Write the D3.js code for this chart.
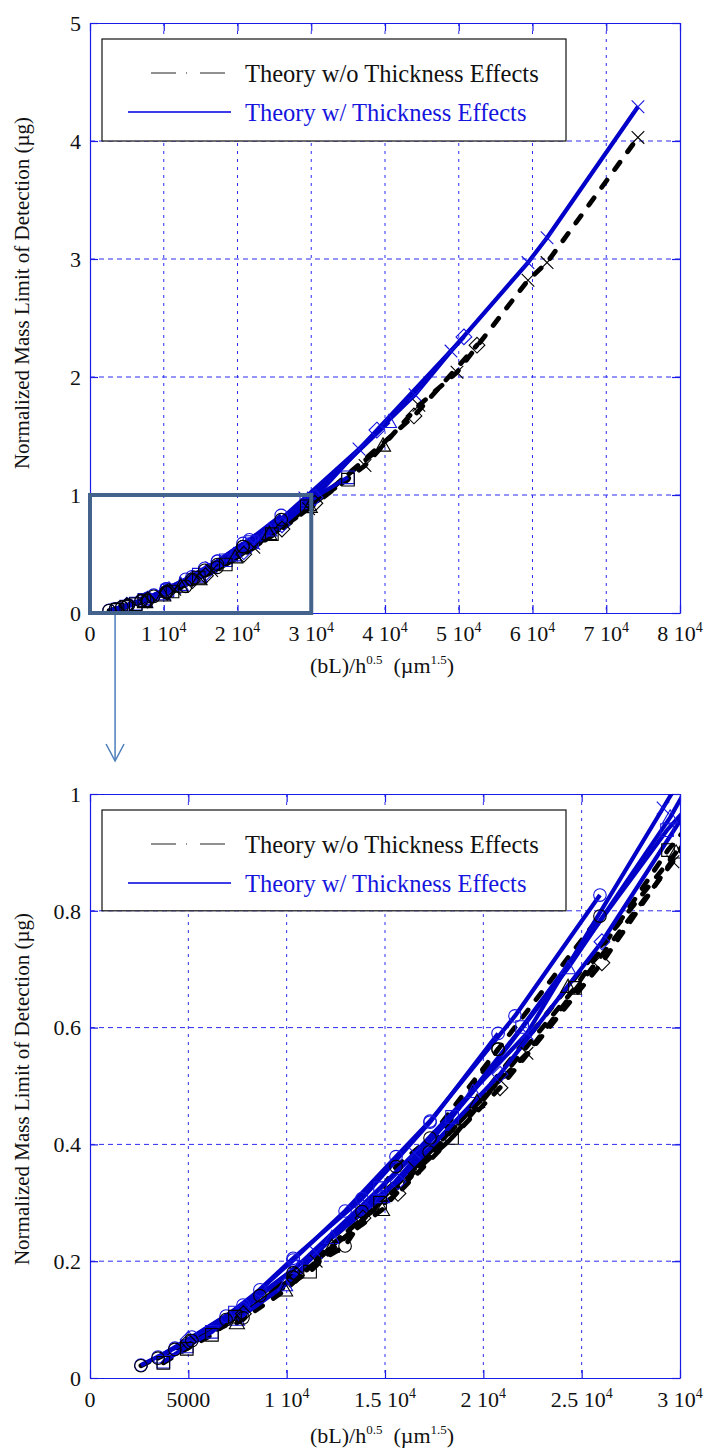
<!DOCTYPE html>
<html>
<head>
<meta charset="utf-8">
<script src="https://cdn.jsdelivr.net/npm/d3@7"></script>
<style>
  body { margin: 0; background: #fff; }
  svg, svg text { font-family: "Liberation Serif", "DejaVu Serif", serif; }
</style>
</head>
<body>
<script>
// ---- data: [ (bL)/h^0.5 , normalized mass LOD ] ----
// w = theory with thickness effects (blue), wo = without (black dashed)
var circleA_w  = [[2590,0.022],[4320,0.051],[6920,0.106],[8640,0.151],[10330,0.202],[12970,0.286],[15560,0.379],[17290,0.440],[21610,0.620],[25930,0.827]];
var circleA_wo = [[2590,0.021],[4320,0.049],[6920,0.100],[8640,0.141],[10330,0.173],[12970,0.226],[15560,0.362],[17290,0.411],[20750,0.563],[25930,0.791]];
var circleB_w  = [[3460,0.036],[5180,0.070],[7780,0.125],[10330,0.205],[13830,0.307],[17290,0.438],[20750,0.590]];
var circleB_wo = [[3460,0.034],[5180,0.064],[7780,0.103],[10330,0.180],[13830,0.285],[17240,0.387],[20750,0.563]];
var square_w   = [[3730,0.028],[4920,0.054],[6200,0.079],[7370,0.112],[10500,0.190],[14750,0.325],[18410,0.447],[21970,0.601],[29340,0.938],[34980,1.150]];
var square_wo  = [[3730,0.026],[4920,0.050],[6200,0.074],[7370,0.105],[11190,0.182],[14750,0.300],[18410,0.411],[24660,0.668],[29390,0.904],[34980,1.130]];
var triangle_w = [[7470,0.100],[9920,0.159],[12300,0.240],[14850,0.310],[19470,0.490],[24310,0.702],[29500,0.960],[40540,1.620]];
var triangle_wo= [[7470,0.094],[9920,0.150],[12300,0.225],[14850,0.288],[19680,0.473],[24310,0.670],[29800,0.900],[39730,1.420]];
var diamond_w  = [[5000,0.066],[7800,0.118],[10500,0.190],[13880,0.292],[15660,0.336],[20850,0.520],[26030,0.747],[30500,0.980],[38900,1.550],[50700,2.340]];
var diamond_wo = [[5000,0.062],[7800,0.110],[10500,0.176],[13880,0.274],[15660,0.316],[20850,0.497],[26030,0.711],[30500,0.930],[43930,1.670],[52475,2.270]];
var cross_w    = [[11500,0.215],[16500,0.385],[22220,0.590],[29140,0.976],[36470,1.390],[44070,1.850],[48950,2.220],[59390,2.970],[61970,3.180],[74300,4.290]];
var cross_wo   = [[11500,0.200],[16500,0.360],[22220,0.556],[29640,0.884],[37290,1.250],[44600,1.760],[49760,2.040],[59390,2.820],[61970,2.970],[74300,4.030]];

var seriesList = [
  {pts: circleA_w,   th: "w",  mk: "circle"},
  {pts: circleB_w,   th: "w",  mk: "circle"},
  {pts: square_w,    th: "w",  mk: "square"},
  {pts: triangle_w,  th: "w",  mk: "triangle"},
  {pts: diamond_w,   th: "w",  mk: "diamond"},
  {pts: cross_w,     th: "w",  mk: "cross"},
  {pts: circleA_wo,  th: "wo", mk: "circle"},
  {pts: circleB_wo,  th: "wo", mk: "circle"},
  {pts: square_wo,   th: "wo", mk: "square"},
  {pts: triangle_wo, th: "wo", mk: "triangle"},
  {pts: diamond_wo,  th: "wo", mk: "diamond"},
  {pts: cross_wo,    th: "wo", mk: "cross"}
];

// ticks
var topXTicks = [0,10000,20000,30000,40000,50000,60000,70000,80000];
var topXLabels = [["0",""],["1 10","4"],["2 10","4"],["3 10","4"],["4 10","4"],["5 10","4"],["6 10","4"],["7 10","4"],["8 10","4"]];
var topYTicks = [0,1,2,3,4,5];
var topYLabels = ["0","1","2","3","4","5"];
var botXTicks = [0,5000,10000,15000,20000,25000,30000];
var botXLabels = [["0",""],["5000",""],["1 10","4"],["1.5 10","4"],["2 10","4"],["2.5 10","4"],["3 10","4"]];
var botYTicks = [0,0.2,0.4,0.6,0.8,1];
var botYLabels = ["0","0.2","0.4","0.6","0.8","1"];

var legendNames = ["Theory w/o Thickness Effects", "Theory w/ Thickness Effects"];

// ---- layout ----
var width = 705, height = 1452;
var plotLeft = 90, plotRight = 680;
var serif = "'Liberation Serif', 'DejaVu Serif', serif";

var gridBlue = "#2c2cf2";
var frameBlue = "#1a1ae6";
var lineBlue = "#0000c8";
var markBlue = "#1414e0";

var svg = d3.select("body").append("svg")
    .attr("width", width)
    .attr("height", height)
    .attr("font-family", serif);

// marker outline shapes, centred on the point
function markerPath(type) {
  var h = 6.3;
  if (type == "circle") return d3.symbol(d3.symbolCircle, Math.PI * h * h)();
  if (type == "square") return "M" + (-h) + "," + (-h) + "H" + h + "V" + h + "H" + (-h) + "Z";
  if (type == "diamond") return "M0," + (-h * 1.25) + "L" + (h * 1.25) + ",0L0," + (h * 1.25) + "L" + (-h * 1.25) + ",0Z";
  if (type == "triangle") return "M0," + (-h * 1.2) + "L" + (h * 1.2) + "," + (h * 0.9) + "L" + (-h * 1.2) + "," + (h * 0.9) + "Z";
  return "M" + (-h) + "," + (-h) + "L" + h + "," + h + "M" + (-h) + "," + h + "L" + h + "," + (-h);
}

function drawPanel(p) {
  var x = d3.scaleLinear().domain([0, p.xMax]).range([plotLeft, plotRight]);
  var y = d3.scaleLinear().domain([0, p.yMax]).range([p.bottom, p.top]);
  var g = svg.append("g");

  svg.append("clipPath").attr("id", "clip" + p.id)
     .append("rect")
     .attr("x", plotLeft).attr("y", p.top)
     .attr("width", plotRight - plotLeft).attr("height", p.bottom - p.top);

  // grid
  g.append("g").selectAll("line")
    .data(p.xTicks.slice(1, -1)).enter().append("line")
    .attr("x1", function(d) { return x(d); }).attr("x2", function(d) { return x(d); })
    .attr("y1", p.top).attr("y2", p.bottom)
    .attr("stroke", gridBlue).attr("stroke-width", 1)
    .attr("stroke-dasharray", "3,5");
  g.append("g").selectAll("line")
    .data(p.yTicks.slice(1, -1)).enter().append("line")
    .attr("x1", plotLeft).attr("x2", plotRight)
    .attr("y1", function(d) { return y(d); }).attr("y2", function(d) { return y(d); })
    .attr("stroke", gridBlue).attr("stroke-width", 1)
    .attr("stroke-dasharray", "5,4");

  // frame + inward ticks
  var axes = [
    [d3.axisBottom(x).tickValues(p.xTicks), "translate(0," + p.bottom + ")"],
    [d3.axisTop(x).tickValues(p.xTicks), "translate(0," + p.top + ")"],
    [d3.axisLeft(y).tickValues(p.yTicks), "translate(" + plotLeft + ",0)"],
    [d3.axisRight(y).tickValues(p.yTicks), "translate(" + plotRight + ",0)"]
  ];
  axes.forEach(function(a) {
    var ag = g.append("g").attr("transform", a[1])
      .call(a[0].tickSizeInner(-8).tickSizeOuter(0).tickFormat(""));
    ag.selectAll("path, line").attr("stroke", frameBlue).attr("stroke-width", 1.2);
  });

  // legend
  var lgTop = p.top + 16, lgBottom = y(p.legendBottom);
  g.append("rect")
    .attr("x", 102).attr("y", lgTop)
    .attr("width", 464).attr("height", lgBottom - lgTop)
    .attr("fill", "white").attr("stroke", "#111").attr("stroke-width", 1.2);
  g.append("line")
    .attr("x1", 151).attr("x2", 225).attr("y1", lgTop + 34).attr("y2", lgTop + 34)
    .attr("stroke", "#222").attr("stroke-width", 1.2)
    .attr("stroke-dasharray", "25,10,1,13,25");
  g.append("line")
    .attr("x1", 128).attr("x2", 231).attr("y1", lgTop + 73).attr("y2", lgTop + 73)
    .attr("stroke", "#3c3ce8").attr("stroke-width", 1.8);
  g.append("text").attr("x", 245).attr("y", lgTop + 43)
    .attr("font-family", serif)
    .attr("font-size", "24.5px").attr("fill", "#111").text(legendNames[0]);
  g.append("text").attr("x", 245).attr("y", lgTop + 82)
    .attr("font-family", serif)
    .attr("font-size", "24.5px").attr("fill", "#1515dd").text(legendNames[1]);

  // data: black dashed underneath, blue solid on top, then markers
  var dg = g.append("g").attr("clip-path", "url(#clip" + p.id + ")");
  var line = d3.line()
      .x(function(d) { return x(d[0]); })
      .y(function(d) { return y(d[1]); });

  seriesList.filter(function(s) { return s.th == "wo"; }).forEach(function(s) {
    dg.append("path").attr("d", line(s.pts))
      .attr("fill", "none").attr("stroke", "#000")
      .attr("stroke-width", 4.8).attr("stroke-linecap", "round")
      .attr("stroke-dasharray", "9,13");
  });
  seriesList.filter(function(s) { return s.th == "w"; }).forEach(function(s) {
    dg.append("path").attr("d", line(s.pts))
      .attr("fill", "none").attr("stroke", lineBlue)
      .attr("stroke-width", 4.2).attr("stroke-linejoin", "round");
  });
  seriesList.forEach(function(s) {
    dg.selectAll(null).data(s.pts).enter().append("path")
      .attr("transform", function(d) { return "translate(" + x(d[0]) + "," + y(d[1]) + ")"; })
      .attr("d", markerPath(s.mk))
      .attr("fill", "none")
      .attr("stroke", s.th == "w" ? markBlue : "#000")
      .attr("stroke-width", 1.1);
  });

  // tick labels
  var xl = g.append("g").selectAll("text")
    .data(p.xTicks).enter().append("text")
    .attr("x", function(d) { return x(d); })
    .attr("y", p.labelY)
    .attr("text-anchor", "middle")
    .attr("font-family", serif)
    .attr("font-size", "22px").attr("fill", "#111");
  xl.each(function(d, i) {
    var lab = p.xLabels[i];
    var t = d3.select(this);
    t.append("tspan").text(lab[0]);
    if (lab[1]) {
      t.append("tspan").attr("dy", -9).attr("font-size", "14px").text(lab[1]);
    }
  });
  g.append("g").selectAll("text")
    .data(p.yTicks).enter().append("text")
    .attr("x", plotLeft - 9)
    .attr("y", function(d) { return y(d); })
    .attr("dy", "0.35em")
    .attr("text-anchor", "end")
    .attr("font-family", serif)
    .attr("font-size", "22px").attr("fill", "#111")
    .text(function(d, i) { return p.yLabels[i]; });

  // axis titles
  var xt = g.append("text")
    .attr("x", 382).attr("y", p.titleY)
    .attr("text-anchor", "middle")
    .attr("font-family", serif)
    .attr("font-size", "22px").attr("fill", "#111");
  xt.append("tspan").text("(bL)/h");
  xt.append("tspan").attr("dy", -9).attr("font-size", "13px").text("0.5");
  xt.append("tspan").attr("dy", 9).text("\u00a0\u00a0(\u00b5m");
  xt.append("tspan").attr("dy", -9).attr("font-size", "13px").text("1.5");
  xt.append("tspan").attr("dy", 9).text(")");

  g.append("text")
    .attr("transform", "translate(29," + p.yTitleMid + ") rotate(-90)")
    .attr("text-anchor", "middle")
    .attr("font-family", serif)
    .attr("font-size", "21px").attr("fill", "#111")
    .text("Normalized Mass Limit of Detection (\u00b5g)");

  return {x: x, y: y, g: g};
}

var topPanel = drawPanel({
  id: "top", top: 23, bottom: 613, xMax: 80000, yMax: 5,
  xTicks: topXTicks, xLabels: topXLabels, yTicks: topYTicks, yLabels: topYLabels,
  legendBottom: 4, labelY: 641, titleY: 673, yTitleMid: 293
});

var botPanel = drawPanel({
  id: "bot", top: 794, bottom: 1378, xMax: 30000, yMax: 1,
  xTicks: botXTicks, xLabels: botXLabels, yTicks: botYTicks, yLabels: botYLabels,
  legendBottom: 0.8, labelY: 1407, titleY: 1443, yTitleMid: 1089
});

// zoom box on the upper chart and arrow down to the lower one
var tx = topPanel.x, ty = topPanel.y;
svg.append("rect")
  .attr("x", tx(0)).attr("y", ty(1))
  .attr("width", tx(30000) - tx(0)).attr("height", ty(0) - ty(1))
  .attr("fill", "none").attr("stroke", "#43638c").attr("stroke-width", 4);

var arrowX = tx(3400), arrowTip = 761;
svg.append("line")
  .attr("x1", arrowX).attr("x2", arrowX).attr("y1", ty(0) + 2).attr("y2", arrowTip)
  .attr("stroke", "#4a7ebb").attr("stroke-width", 1.5);
svg.append("path")
  .attr("d", "M" + (arrowX - 9) + "," + (arrowTip - 17) + "L" + arrowX + "," + arrowTip + "L" + (arrowX + 9) + "," + (arrowTip - 17))
  .attr("fill", "none").attr("stroke", "#4a7ebb").attr("stroke-width", 1.5);
</script>
</body>
</html>
